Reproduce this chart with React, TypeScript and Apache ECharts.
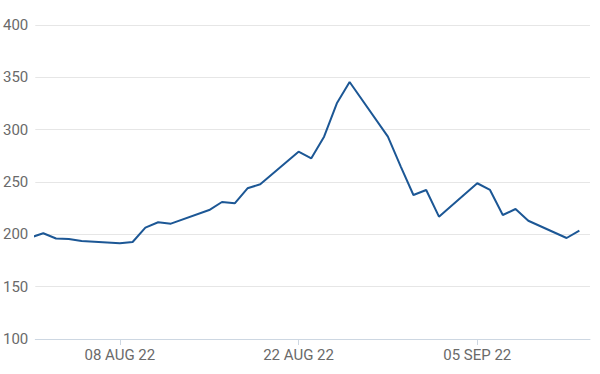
import React, { useEffect, useRef } from "react";
import * as echarts from "echarts";

const dates: string[] = [
  "2022-08-01", "2022-08-02", "2022-08-03", "2022-08-04", "2022-08-05",
  "2022-08-08", "2022-08-09", "2022-08-10", "2022-08-11", "2022-08-12",
  "2022-08-15", "2022-08-16", "2022-08-17", "2022-08-18", "2022-08-19",
  "2022-08-22", "2022-08-23", "2022-08-24", "2022-08-25", "2022-08-26",
  "2022-08-29", "2022-08-30", "2022-08-31", "2022-09-01", "2022-09-02",
  "2022-09-05", "2022-09-06", "2022-09-07", "2022-09-08", "2022-09-09",
  "2022-09-12", "2022-09-13",
];
const values: number[] = [
  197, 201, 196, 195.5, 193.6,
  191.4, 192.7, 206.4, 211.5, 210.2,
  223.2, 230.9, 229.6, 244, 247.8,
  279, 272.6, 293.3, 325.2, 345.5,
  293.3, 265, 237.6, 242.4, 216.9,
  248.8, 242.4, 218.5, 224.2, 213,
  196.5, 203.5,
];
const tickDates: string[] = ["2022-08-08", "2022-08-22", "2022-09-05"];
const axisStart = "2022-08-01T09:00:00Z";
const axisEnd = "2022-09-13T20:00:00Z";
const yMin = 100;
const yMax = 400;
const yStep = 50;

const MONTHS = ["JAN", "FEB", "MAR", "APR", "MAY", "JUN", "JUL", "AUG", "SEP", "OCT", "NOV", "DEC"];
const toTs = (s: string) => Date.parse(s.length === 10 ? s + "T00:00:00Z" : s);
const fmt = (v: number) => {
  const d = new Date(v);
  const dd = String(d.getUTCDate()).padStart(2, "0");
  const yy = String(d.getUTCFullYear() % 100).padStart(2, "0");
  return `${dd} ${MONTHS[d.getUTCMonth()]} ${yy}`;
};

export default function App() {
  const ref = useRef<HTMLDivElement>(null);
  useEffect(() => {
    if (!ref.current) return;
    const chart = echarts.init(ref.current, undefined, { renderer: "svg" });
    const ticks = tickDates.map(toTs);
    chart.setOption({
      animation: false,
      backgroundColor: "#ffffff",
      grid: { left: 33, right: 10, top: 25, bottom: 35, containLabel: false },
      xAxis: {
        type: "value",
        min: toTs(axisStart),
        max: toTs(axisEnd),
        axisLine: { show: true, lineStyle: { color: "#cdd7e2", width: 1 } },
        axisTick: { show: true, customValues: ticks, length: 6, lineStyle: { color: "#cdd7e2" } },
        axisLabel: {
          customValues: ticks,
          formatter: (v: number) => fmt(v),
          color: "#6a6a6a",
          fontSize: 15,
          fontFamily: "Roboto",
          margin: 8,
        },
        splitLine: { show: false },
      },
      yAxis: {
        type: "value",
        min: yMin,
        max: yMax,
        interval: yStep,
        axisLine: { show: false },
        axisTick: { show: false },
        axisLabel: { color: "#6a6a6a", fontSize: 15, fontFamily: "Roboto", margin: 7 },
        splitLine: { show: true, lineStyle: { color: "#e6e6e6", width: 1 } },
      },
      series: [
        {
          type: "line",
          data: dates.map((d, i) => [toTs(d), values[i]]),
          showSymbol: false,
          symbol: "none",
          clip: true,
          lineStyle: { color: "#1c5795", width: 2 },
          itemStyle: { color: "#1c5795" },
        },
      ],
    });
    return () => chart.dispose();
  }, []);
  return (
    <div
      ref={ref}
      style={{ position: "fixed", left: 0, top: 0, width: 600, height: 374, background: "#fff" }}
    />
  );
}
